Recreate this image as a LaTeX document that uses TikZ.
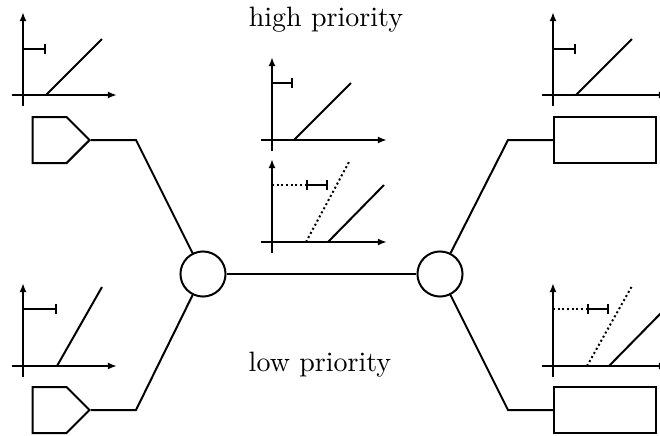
\documentclass[tikz,border=0pt]{standalone}
\usetikzlibrary{arrows.meta,shapes.symbols}

\begin{document}
\begin{tikzpicture}[
    x=0.375pt, y=-0.375pt,
    line width=0.75pt,
    every node/.style={font=\fontsize{10.5}{12}\selectfont},
    source/.style={draw, signal, signal to=east, signal pointer angle=90, minimum width=21.4pt, minimum height=17.25pt, inner sep=0pt, anchor=east},
    sink/.style={draw, rectangle, minimum width=38.25pt, minimum height=17.25pt, inner sep=0pt, anchor=west},
    switch/.style={draw, circle, minimum size=16.9pt, inner sep=0pt},
    axis/.style={-{Latex[length=3.4pt,width=2.6pt]}},
    bound/.style={-{Bar[width=3.75pt]}},
    dbound/.style={{Bar[width=3.75pt]}-{Bar[width=3.75pt]}},
    shifted/.style={densely dotted}
]
\useasboundingbox (0,0) rectangle (660,436);

% labels
\node[anchor=base] (hi) at (326,26) {high priority};
\node[anchor=base] (lo) at (320,371) {low priority};

% sources, switches, sinks
\node[source] (src1) at (91,140) {};
\node[source] (src2) at (91,410) {};
\node[switch] (sw1) at (203,274) {};
\node[switch] (sw2) at (440,274) {};
\node[sink] (dst1) at (553,140) {};
\node[sink] (dst2) at (553,410) {};
\coordinate (c1) at (136,140);
\coordinate (c2) at (136,410);
\coordinate (c3) at (508,140);
\coordinate (c4) at (508,410);

\draw (src1.east) -- (c1) -- (sw1);
\draw (src2.east) -- (c2) -- (sw1);
\draw (sw1) -- (sw2);
\draw (sw2) -- (c3) -- (dst1.west);
\draw (sw2) -- (c4) -- (dst2.west);

% arrival curves
\begin{scope}[shift={(23,95)}]
  \draw[axis] (0,11) -- (0,-83);
  \draw[axis] (-11,0) -- (94,0);
  \draw[bound] (0,-46) -- (23,-46);
  \draw (23,0) -- (79,-56);
\end{scope}
\begin{scope}[shift={(23,366)}]
  \draw[axis] (0,11) -- (0,-83);
  \draw[axis] (-11,0) -- (94,0);
  \draw[bound] (0,-57) -- (34,-57);
  \draw (34,0) -- (79,-79);
\end{scope}

% service curves
\begin{scope}[shift={(272,140)}]
  \draw[axis] (0,11) -- (0,-83);
  \draw[axis] (-11,0) -- (115,0);
  \draw[bound] (0,-57) -- (21,-57);
  \draw (22,0) -- (79,-57);
\end{scope}
\begin{scope}[shift={(272,242)}]
  \draw[axis] (0,11) -- (0,-83);
  \draw[axis] (-11,0) -- (115,0);
  \draw[shifted] (0,-57) -- (34,-57);
  \draw[dbound] (34,-57) -- (56,-57);
  \draw[shifted] (34,0) -- (77,-80);
  \draw (56,0) -- (112,-57);
\end{scope}

% output curves
\begin{scope}[shift={(553,95)}]
  \draw[axis] (0,11) -- (0,-83);
  \draw[axis] (-11,0) -- (115,0);
  \draw[bound] (0,-46) -- (23,-46);
  \draw (23,0) -- (79,-56);
\end{scope}
\begin{scope}[shift={(553,366)}]
  \draw[axis] (0,11) -- (0,-83);
  \draw[axis] (-11,0) -- (115,0);
  \draw[shifted] (0,-57) -- (34,-57);
  \draw[dbound] (34,-57) -- (56,-57);
  \draw[shifted] (34,0) -- (79,-80);
  \draw (56,0) -- (112,-57);
\end{scope}
\end{tikzpicture}
\end{document}
